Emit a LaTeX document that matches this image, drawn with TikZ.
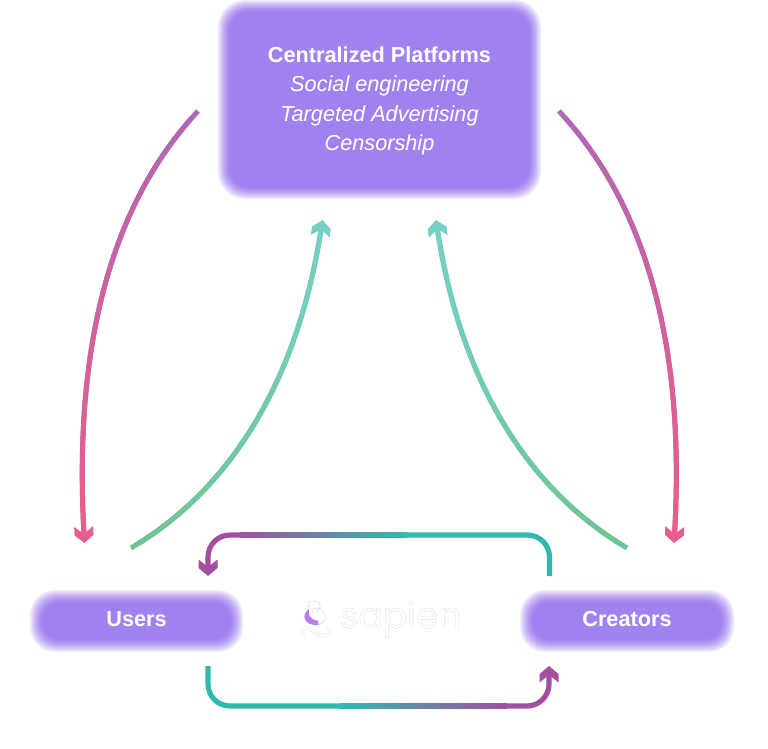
\documentclass[tikz,border=0pt]{standalone}
\usepackage{fontspec}
\setmainfont{Liberation Sans}
\newfontfamily\logofont{Poppins}
\usepackage{tikz}
\usetikzlibrary{calc}

\definecolor{boxpurple}{HTML}{A082EF}
\definecolor{pinktop}{HTML}{AE68B6}
\definecolor{pinkend}{HTML}{E95D8B}
\definecolor{greenlow}{HTML}{70C390}
\definecolor{tealup}{HTML}{74D0C6}
\definecolor{tealdark}{HTML}{2EBBAD}
\definecolor{plum}{HTML}{A24FA0}
\definecolor{logoline}{HTML}{DCDCDC}
\definecolor{logopurple}{HTML}{B57FEF}

% blurred box: nested fills, #6 radius, #1 width of the blur
\newcommand{\softbox}[6]{%
    \foreach \d in {0,...,#1}{
        \pgfmathtruncatemacro{\shadepct}{15+85*(1-(1-\d/#1)^1.5)}
        \fill[boxpurple!\shadepct!white, rounded corners=#6pt-0.6*\d pt]
            (#2+\d,#3+\d) rectangle (#4-\d,#5-\d);
    }
}
% curve cut in short pieces, colour changes piece by piece
\newcommand{\gradcurve}[6]{%
    \path (#1) .. controls (#2) and (#3) .. (#4)
        \foreach \i [evaluate=\i as \t using 0.985*\i/40] in {0,...,40}{
            coordinate[pos=\t] (s\i)
        };
    \foreach \i [evaluate=\i as \j using {int(min(\i+2,40))},
                 evaluate=\i as \p using {int(100*\i/39)}] in {0,...,39}{
        \colorlet{segcol}{#6!\p!#5}
        \draw[flow,segcol] (s\i) -- (s\j);
    }
}
\newcommand{\headtip}[3]{%
    \fill[#3, shift={(#1)}, rotate=#2]
        (0,0) -- (-8,9.5) -- (-16.5,9.5) -- (-11,2.6) -- (-11,-2.6)
        -- (-16.5,-9.5) -- (-8,-9.5) -- cycle;
}

\begin{document}
\begin{tikzpicture}[
        x=1pt, y=-1pt,
        flow/.style={line width=5pt, line cap=butt},
        loopline/.style={line width=5.2pt, line cap=butt, rounded corners=22pt},
        boxtext/.style={text=white, align=center, font=\fontsize{21.7}{29.5}\selectfont},
        logostroke/.style={logoline, line width=0.6pt},
    ]
    \useasboundingbox (0,0) rectangle (768,748);

    % boxes
    \softbox{12}{218}{0}{541}{199}{27}
    \softbox{13}{30}{590}{243}{652}{25}
    \softbox{13}{520}{590}{734}{652}{25}
    \node[boxtext] (platforms) at (379.5,101) {\textbf{Centralized Platforms}\\
        \textit{Social engineering}\\\textit{Targeted Advertising}\\\textit{Censorship}};
    \node[boxtext, anchor=base] (users) at (136.5,626.5) {\textbf{Users}};
    \node[boxtext, anchor=base] (creators) at (627,626.5) {\textbf{Creators}};

    % ends of the connectors
    \coordinate (leftdownA) at (198,111);
    \coordinate (leftdownB) at (84.5,543);
    \coordinate (rightdownA) at (559,111);
    \coordinate (rightdownB) at (674,543);
    \coordinate (leftupA) at (131,548);
    \coordinate (leftupB) at (322.5,220);
    \coordinate (rightupA) at (627,548);
    \coordinate (rightupB) at (436,220);
    \coordinate (lowA) at (208,666);
    \coordinate (lowB) at (549,666);
    \coordinate (highA) at (549.5,576);
    \coordinate (highB) at (208,576);

    % platforms to users and creators
    \gradcurve{leftdownA}{110,205}{72,350}{leftdownB}{pinktop}{pinkend}
    \headtip{leftdownB}{-87}{pinkend}
    \gradcurve{rightdownA}{647,205}{687,350}{rightdownB}{pinktop}{pinkend}
    \headtip{rightdownB}{-93}{pinkend}

    % users and creators to platforms
    \gradcurve{leftupA}{230,490}{300,380}{leftupB}{greenlow}{tealup}
    \headtip{leftupB}{82}{tealup}
    \gradcurve{rightupA}{528,490}{458,380}{rightupB}{greenlow}{tealup}
    \headtip{rightupB}{98}{tealup}

    % users to creators
    \draw[loopline,tealdark] (lowA) -- (lowA|-0,706) -- (341,706);
    \shade[left color=tealdark, right color=plum] (340,703.4) rectangle (507,708.6);
    \draw[loopline,plum] (506,706) -- (lowB|-0,706) -- ($(lowB)+(0,8)$);
    \headtip{lowB}{90}{plum}

    % creators to users
    \draw[loopline,tealdark] (highA) -- (highA|-0,535) -- (406,535);
    \shade[left color=plum, right color=tealdark] (240,532.4) rectangle (407,537.6);
    \draw[loopline,plum] (241,535) -- (highB|-0,535) -- ($(highB)+(0,-8)$);
    \headtip{highB}{-90}{plum}

    % logo
    \node[text=logoline, font=\logofont\fontsize{36}{36}\selectfont, inner sep=0pt] (logoname)
        at (400.5,619) {\special{pdf:code 1 Tr 0.35 w}sapien\special{pdf:code 0 Tr}};
    \draw[logostroke] (318,608) .. controls (328,611) and (327,624) .. (318,624.5);
    \draw[logostroke] (310,610) .. controls (306,603) and (310,601) .. (314,601)
        .. controls (319,601) and (322,605) .. (319,610);
    \draw[logostroke] (313,613) .. controls (312,606) and (318,606) .. (318,613);
    \fill[logopurple] (309,609) .. controls (301,614) and (303,626) .. (318.5,625)
        -- (318,620.5) .. controls (311,620.5) and (307.5,615) .. (309,609);
    \draw[logoline, line width=3pt, line cap=round] (304,635) .. controls (298,631) and (302,627) .. (307,628)
        .. controls (314,630) and (318,636) .. (325,636) .. controls (331,636) and (332,629) .. (327,628);
    \draw[white, line width=2.2pt, line cap=round] (304,635) .. controls (298,631) and (302,627) .. (307,628)
        .. controls (314,630) and (318,636) .. (325,636) .. controls (331,636) and (332,629) .. (327,628);
\end{tikzpicture}
\end{document}
